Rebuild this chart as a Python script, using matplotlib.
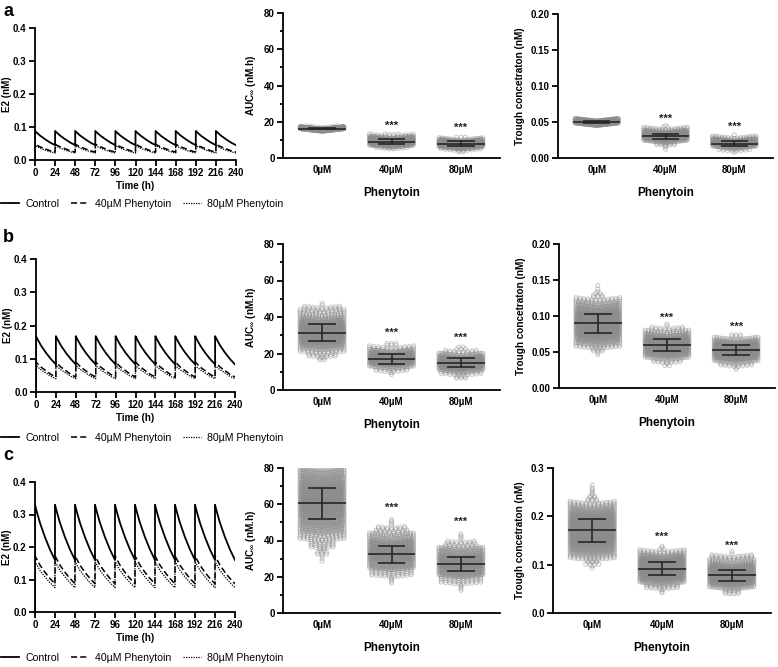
import numpy as np
import matplotlib
matplotlib.use('Agg')
import matplotlib.pyplot as plt
from matplotlib.lines import Line2D
from matplotlib.ticker import MultipleLocator

plt.rcParams['font.family'] = ['Liberation Sans', 'DejaVu Sans']
plt.rcParams['font.weight'] = 'bold'
plt.rcParams['axes.labelweight'] = 'bold'
plt.rcParams['mathtext.fontset'] = 'custom'
plt.rcParams['mathtext.rm'] = 'Liberation Sans:bold'
plt.rcParams['mathtext.bf'] = 'Liberation Sans:bold'
plt.rcParams['mathtext.it'] = 'Liberation Sans:bold'

# ---------------- data ----------------
time_ticks = [0, 24, 48, 72, 96, 120, 144, 168, 192, 216, 240]
dose_times = [0, 24, 48, 72, 96, 120, 144, 168, 192, 216]
cycle_hours = [0, 2, 6, 12, 18, 24]
series_names = ['Control', '40µM Phenytoin', '80µM Phenytoin']

a_ctrl = [0.088, 0.083, 0.074, 0.063, 0.053, 0.045]
a_p40 = [0.048, 0.045, 0.040, 0.034, 0.028, 0.024]
a_p80 = [0.043, 0.041, 0.036, 0.030, 0.025, 0.021]

b_ctrl = [0.168, 0.158, 0.140, 0.118, 0.099, 0.083]
b_p40 = [0.090, 0.085, 0.075, 0.064, 0.053, 0.045]
b_p80 = [0.080, 0.075, 0.067, 0.057, 0.047, 0.040]

c_ctrl = [0.330, 0.310, 0.274, 0.230, 0.192, 0.160]
c_p40 = [0.173, 0.163, 0.144, 0.122, 0.103, 0.087]
c_p80 = [0.155, 0.146, 0.128, 0.108, 0.090, 0.075]

categories = ['0µM', '40µM', '80µM']

# histogram of simulated individuals (bin edges, counts per group)
a_auc_edges = [3, 4, 5, 6, 7, 8, 9, 10, 11, 12, 13, 14, 15, 16, 17, 18]
a_auc_0 = [0, 0, 0, 0, 0, 0, 0, 0, 0, 0, 0, 0, 100, 200, 8]
a_auc_40 = [0, 0, 8, 40, 100, 150, 150, 100, 40, 12, 4, 0, 0, 0, 0]
a_auc_80 = [2, 10, 40, 110, 160, 140, 70, 20, 3, 0, 0, 0, 0, 0, 0]
a_auc_mean = [16.2, 9.0, 7.8]
a_auc_sd = [0.4, 1.5, 1.35]
a_auc_stars = [17.6, 16.4]

a_tr_edges = [0.006, 0.010, 0.014, 0.018, 0.022, 0.026, 0.030, 0.034, 0.038, 0.042, 0.046, 0.050, 0.054]
a_tr_0 = [0, 0, 0, 0, 0, 0, 0, 0, 0, 0, 150, 150]
a_tr_40 = [0, 1, 2, 10, 60, 150, 150, 80, 30, 3, 0, 0]
a_tr_80 = [1, 15, 70, 160, 110, 30, 1, 0, 0, 0, 0, 0]
a_tr_mean = [0.050, 0.030, 0.020]
a_tr_sd = [0.001, 0.004, 0.003]
a_tr_stars = [0.054, 0.043]

b_auc_edges = [6, 8, 10, 12, 14, 16, 18, 20, 22, 24, 26, 28, 30, 32, 34, 36, 38, 40, 42, 44, 46, 48]
b_auc_0 = [0, 0, 0, 0, 0, 4, 14, 24, 40, 70, 100, 120, 130, 120, 100, 70, 50, 30, 24, 18, 2]
b_auc_40 = [0, 2, 16, 50, 110, 140, 120, 60, 22, 6, 0, 0, 0, 0, 0, 0, 0, 0, 0, 0, 0]
b_auc_80 = [6, 20, 60, 120, 150, 110, 50, 16, 5, 0, 0, 0, 0, 0, 0, 0, 0, 0, 0, 0, 0]
b_auc_mean = [31.5, 17.0, 15.0]
b_auc_sd = [4.5, 2.5, 2.3]
b_auc_stars = [31.2, 28.5]

b_tr_edges = [0.025, 0.030, 0.035, 0.040, 0.045, 0.050, 0.055, 0.060, 0.065, 0.070, 0.075, 0.080,
              0.085, 0.090, 0.095, 0.100, 0.105, 0.110, 0.115, 0.120, 0.125, 0.130, 0.135, 0.140, 0.145]
b_tr_0 = [0, 0, 0, 0, 2, 6, 24, 40, 60, 80, 100, 110, 120, 120, 110, 90, 70, 50, 36, 24, 6, 3, 1, 1]
b_tr_40 = [0, 3, 14, 40, 80, 110, 130, 130, 100, 60, 30, 16, 2, 0, 0, 0, 0, 0, 0, 0, 0, 0, 0, 0]
b_tr_80 = [2, 16, 40, 90, 130, 150, 130, 80, 36, 6, 0, 0, 0, 0, 0, 0, 0, 0, 0, 0, 0, 0, 0, 0]
b_tr_mean = [0.090, 0.060, 0.053]
b_tr_sd = [0.013, 0.008, 0.007]
b_tr_stars = [0.097, 0.085]

c_auc_edges = [12, 16, 20, 24, 28, 32, 36, 40, 44, 48, 52, 56, 60, 64, 68, 72, 76, 80]
c_auc_0 = [0, 0, 0, 0, 3, 10, 24, 50, 80, 110, 140, 160, 170, 160, 140, 110, 80]
c_auc_40 = [0, 4, 40, 110, 170, 180, 140, 70, 30, 4, 0, 0, 0, 0, 0, 0, 0]
c_auc_80 = [4, 40, 130, 190, 170, 90, 30, 4, 0, 0, 0, 0, 0, 0, 0, 0, 0]
c_auc_mean = [60.5, 32.5, 27.0]
c_auc_sd = [8.5, 4.7, 3.8]
c_auc_stars = [57.9, 50.4]

c_tr_edges = [0.04, 0.05, 0.06, 0.07, 0.08, 0.09, 0.10, 0.11, 0.12, 0.13, 0.14, 0.15, 0.16,
              0.17, 0.18, 0.19, 0.20, 0.21, 0.22, 0.23, 0.24, 0.25, 0.26, 0.27]
c_tr_0 = [0, 0, 0, 0, 0, 2, 10, 36, 60, 90, 120, 140, 150, 150, 140, 120, 90, 60, 36, 8, 4, 3, 1]
c_tr_40 = [3, 24, 70, 130, 170, 180, 150, 90, 36, 4, 0, 0, 0, 0, 0, 0, 0, 0, 0, 0, 0, 0, 0]
c_tr_80 = [12, 60, 150, 200, 180, 110, 50, 30, 2, 0, 0, 0, 0, 0, 0, 0, 0, 0, 0, 0, 0, 0, 0]
c_tr_mean = [0.171, 0.092, 0.078]
c_tr_sd = [0.024, 0.013, 0.011]
c_tr_stars = [0.157, 0.139]

# ---------------- figure ----------------
fig = plt.figure(figsize=(7.78, 6.67), dpi=100)
W, H = 778, 667

def rect(l, t, r, b):
    return [l / W, 1 - b / H, (r - l) / W, (b - t) / H]

SPW = 1.3
TICKFS = 7

def style(ax):
    for s in ['top', 'right']:
        ax.spines[s].set_visible(False)
    for s in ['left', 'bottom']:
        ax.spines[s].set_linewidth(SPW)
    ax.tick_params(width=SPW, length=4, labelsize=TICKFS, pad=2)
    for lab in ax.get_xticklabels() + ax.get_yticklabels():
        lab.set_fontweight('bold')

styles = [dict(color='black', lw=1.3, ls='-'),
          dict(color='black', lw=1.1, ls=(0, (4, 2))),
          dict(color='black', lw=0.9, ls=(0, (1, 1)))]

def line_panel(box, profiles, leg_y):
    ax = fig.add_axes(rect(*box))
    for prof, st in zip(profiles, styles):
        t = [0.0]
        y = [0.0]
        for d in dose_times:
            t.extend([d + h for h in cycle_hours])
            y.extend(prof)
        ax.plot(t, y, **st)
    ax.set_xlim(0, 240)
    ax.set_ylim(0, 0.4)
    ax.set_xticks(time_ticks)
    ax.set_yticks([0.0, 0.1, 0.2, 0.3, 0.4])
    ax.set_yticklabels(['0.0', '0.1', '0.2', '0.3', '0.4'])
    ax.set_xlabel('Time (h)', fontsize=7, fontweight='bold', labelpad=2)
    ax.set_ylabel('E2 (nM)', fontsize=7, fontweight='bold', labelpad=1)
    style(ax)
    handles = [Line2D([], [], **st) for st in styles]
    fig.legend(handles, series_names, loc='center left',
               bbox_to_anchor=(-0.004, 1 - leg_y / H), ncol=3, frameon=False,
               prop={'size': 7.6, 'weight': 'normal'}, handlelength=1.7,
               handletextpad=0.6, columnspacing=1.1, borderaxespad=0)
    return ax

MARK_PX = 4.0
HALF_W = 0.345
CAP_W = 0.2
V_AMP_PX = 2.5

def swarm_panel(box, edges, groups, means, sds, stars, ylim, yticks, yticklabels, ylabel, minor=None):
    ax = fig.add_axes(rect(*box))
    ax.set_xlim(-0.5625, 2.5625)
    ax.set_ylim(*ylim)
    px_x = ax.bbox.width / 3.125
    px_y = ax.bbox.height / (ylim[1] - ylim[0])
    dx = MARK_PX / px_x
    wmax = HALF_W - dx / 2
    vamp = V_AMP_PX / px_y
    ms = MARK_PX * 72 / 100
    for gi, counts in enumerate(groups):
        xs, ys = [], []
        for bi, n in enumerate(counts):
            if n == 0:
                continue
            lo, hi = edges[bi], edges[bi + 1]
            r = max(1, int(round((hi - lo) * px_y / 1.8)))
            r_used = min(r, n)
            base, rem = divmod(n, r_used)
            for j in range(r_used):
                k = base + (1 if j < rem else 0)
                yrow = lo + (j + 0.5) * (hi - lo) / r_used
                if k == 1:
                    step = 0
                else:
                    step = min(dx * 1.1, 2 * wmax / (k - 1))
                offs = (np.arange(k) - (k - 1) / 2) * step
                xs.extend(gi + offs)
                ys.extend(yrow + vamp * (np.abs(offs) / wmax - 0.5) * (k > 3))
        ax.scatter(xs, ys, s=ms ** 2, facecolors='none', edgecolors='#8c8c8c',
                   linewidths=0.65, alpha=0.5, clip_on=True, zorder=2)
        m, sd = means[gi], sds[gi]
        kw = dict(color='#262626', lw=1.2, zorder=4, solid_capstyle='butt')
        ax.plot([gi - HALF_W, gi + HALF_W], [m, m], **kw)
        ax.plot([gi, gi], [m - sd, m + sd], **kw)
        ax.plot([gi - CAP_W, gi + CAP_W], [m - sd, m - sd], **kw)
        ax.plot([gi - CAP_W, gi + CAP_W], [m + sd, m + sd], **kw)
    for gi, sy in zip([1, 2], stars):
        ax.text(gi, sy, '***', ha='center', va='center', fontsize=8, fontweight='bold', color='#222222')
    ax.set_xticks([0, 1, 2])
    ax.set_xticklabels(categories)
    ax.set_yticks(yticks)
    ax.set_yticklabels(yticklabels)
    if minor is not None:
        ax.yaxis.set_minor_locator(MultipleLocator(minor))
    style(ax)
    ax.tick_params(axis='x', length=0, pad=5)
    ax.tick_params(axis='y', which='minor', length=2.5, width=SPW)
    ax.set_xlabel('Phenytoin', fontsize=8.5, fontweight='bold', labelpad=9)
    ax.set_ylabel(ylabel, fontsize=7.2, fontweight='bold', labelpad=4)
    return ax

AUC_LABEL = r'AUC$_{\infty}$ (nM.h)'
TR_LABEL = 'Trough concetraton (nM)'

# Row a
line_panel((35, 28, 236, 160), [a_ctrl, a_p40, a_p80], 204)
swarm_panel((283, 13, 500, 158), a_auc_edges, [a_auc_0, a_auc_40, a_auc_80], a_auc_mean, a_auc_sd,
            a_auc_stars, (0, 80), [0, 20, 40, 60, 80], ['0', '20', '40', '60', '80'], AUC_LABEL, minor=10)
swarm_panel((558, 14, 773, 158), a_tr_edges, [a_tr_0, a_tr_40, a_tr_80], a_tr_mean, a_tr_sd,
            a_tr_stars, (0, 0.2), [0, 0.05, 0.10, 0.15, 0.20], ['0.00', '0.05', '0.10', '0.15', '0.20'], TR_LABEL)

# Row b
line_panel((36, 259, 235, 392), [b_ctrl, b_p40, b_p80], 438)
swarm_panel((283, 244, 500, 390), b_auc_edges, [b_auc_0, b_auc_40, b_auc_80], b_auc_mean, b_auc_sd,
            b_auc_stars, (0, 80), [0, 20, 40, 60, 80], ['0', '20', '40', '60', '80'], AUC_LABEL, minor=10)
swarm_panel((559, 244, 775, 388), b_tr_edges, [b_tr_0, b_tr_40, b_tr_80], b_tr_mean, b_tr_sd,
            b_tr_stars, (0, 0.2), [0, 0.05, 0.10, 0.15, 0.20], ['0.00', '0.05', '0.10', '0.15', '0.20'], TR_LABEL)

# Row c
line_panel((35, 482, 235, 612), [c_ctrl, c_p40, c_p80], 658)
swarm_panel((283, 468, 500, 613), c_auc_edges, [c_auc_0, c_auc_40, c_auc_80], c_auc_mean, c_auc_sd,
            c_auc_stars, (0, 80), [0, 20, 40, 60, 80], ['0', '20', '40', '60', '80'], AUC_LABEL, minor=10)
swarm_panel((553, 468, 771, 613), c_tr_edges, [c_tr_0, c_tr_40, c_tr_80], c_tr_mean, c_tr_sd,
            c_tr_stars, (0, 0.3), [0, 0.1, 0.2, 0.3], ['0.0', '0.1', '0.2', '0.3'], TR_LABEL)

# Panel letters
for letter, yp in [('a', 12), ('b', 238), ('c', 455)]:
    fig.text(3 / W, 1 - yp / H, letter, fontsize=13, fontweight='bold', va='center', ha='left')

fig.savefig('out.png', dpi=100)
